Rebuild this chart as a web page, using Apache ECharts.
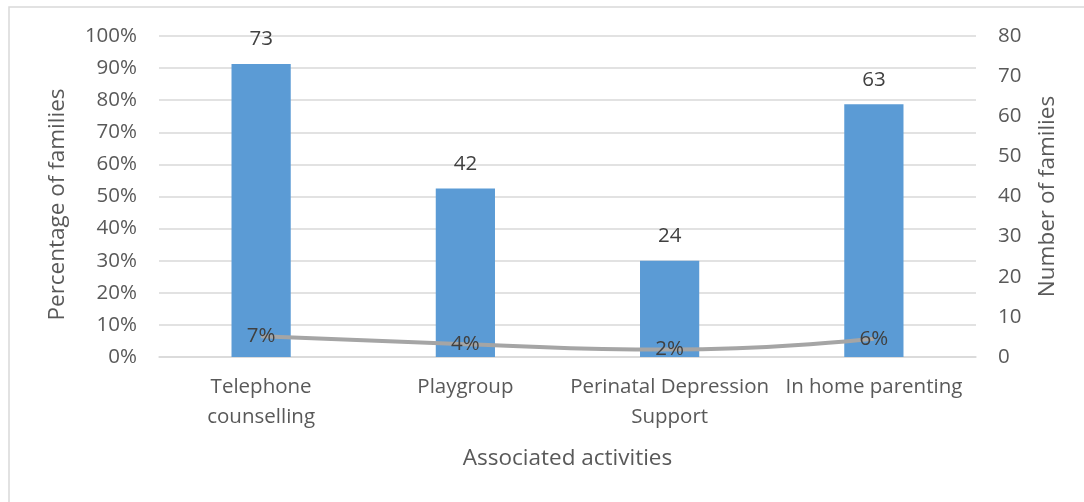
<!DOCTYPE html>
<html>
<head>
<meta charset="utf-8">
<script src="https://cdn.jsdelivr.net/npm/echarts@6/dist/echarts.min.js"></script>
<style>
  html, body { margin: 0; padding: 0; background: #fff; }
  #main { width: 1084px; height: 502px; }
</style>
</head>
<body>
<div id="main"></div>
<script>
let categories = ['Telephone\ncounselling', 'Playgroup', 'Perinatal Depression\nSupport', 'In home parenting'];
let familyCounts = [73, 42, 24, 63];
let familyShares = [0.065, 0.04, 0.023, 0.057];
let pctTicks = [0, 1, 0.1];
let countTicks = [0, 80, 10];

let font = 'Open Sans';
let textColor = '#595959';
let fs = 20.5;

let chart = echarts.init(document.getElementById('main'));
chart.setOption({
    animation: false,
    textStyle: {fontFamily: font},
    graphic: [{
        type: 'rect',
        shape: {x: 9, y: 7, width: 1100, height: 520},
        style: {fill: 'none', stroke: '#d9d9d9', lineWidth: 1.5},
        silent: true
    }],
    grid: {left: 159, right: 108, top: 36, bottom: 145},
    xAxis: {
        type: 'category',
        data: categories,
        name: 'Associated activities',
        nameLocation: 'middle',
        nameGap: 90,
        nameTextStyle: {color: textColor, fontSize: 22.5, fontFamily: font},
        axisTick: {show: false},
        axisLine: {lineStyle: {color: '#d9d9d9', width: 1.5}},
        axisLabel: {color: textColor, fontSize: fs, lineHeight: 30, margin: 15, interval: 0}
    },
    yAxis: [{
        type: 'value',
        min: pctTicks[0], max: pctTicks[1], interval: pctTicks[2],
        name: 'Percentage of families',
        nameLocation: 'middle',
        nameGap: 90,
        nameTextStyle: {color: textColor, fontSize: 22.5, fontFamily: font, padding: [0, 16, 0, 0]},
        axisLabel: {
            color: textColor, fontSize: fs, margin: 22,
            formatter: v => Math.round(v * 100) + '%'
        },
        splitLine: {lineStyle: {color: '#d9d9d9', width: 1.5}}
    }, {
        type: 'value',
        min: countTicks[0], max: countTicks[1], interval: countTicks[2],
        name: 'Number of families',
        nameLocation: 'middle',
        nameGap: 60,
        nameTextStyle: {color: textColor, fontSize: 22.5, fontFamily: font},
        axisLabel: {color: textColor, fontSize: fs, margin: 22},
        splitLine: {show: false}
    }],
    series: [{
        type: 'bar',
        yAxisIndex: 1,
        data: familyCounts,
        barWidth: '29%',
        itemStyle: {color: '#5b9bd5'},
        label: {show: true, position: 'top', distance: 14, color: '#404040', fontSize: fs}
    }, {
        type: 'line',
        yAxisIndex: 0,
        data: familyShares,
        smooth: true,
        symbol: 'circle',
        symbolSize: 1,
        itemStyle: {color: '#a5a5a5'},
        lineStyle: {color: '#a5a5a5', width: 4},
        label: {
            show: true, position: 'inside', color: '#404040', fontSize: fs,
            formatter: p => Math.round(p.value * 100) + '%'
        }
    }]
});
</script>
</body>
</html>
